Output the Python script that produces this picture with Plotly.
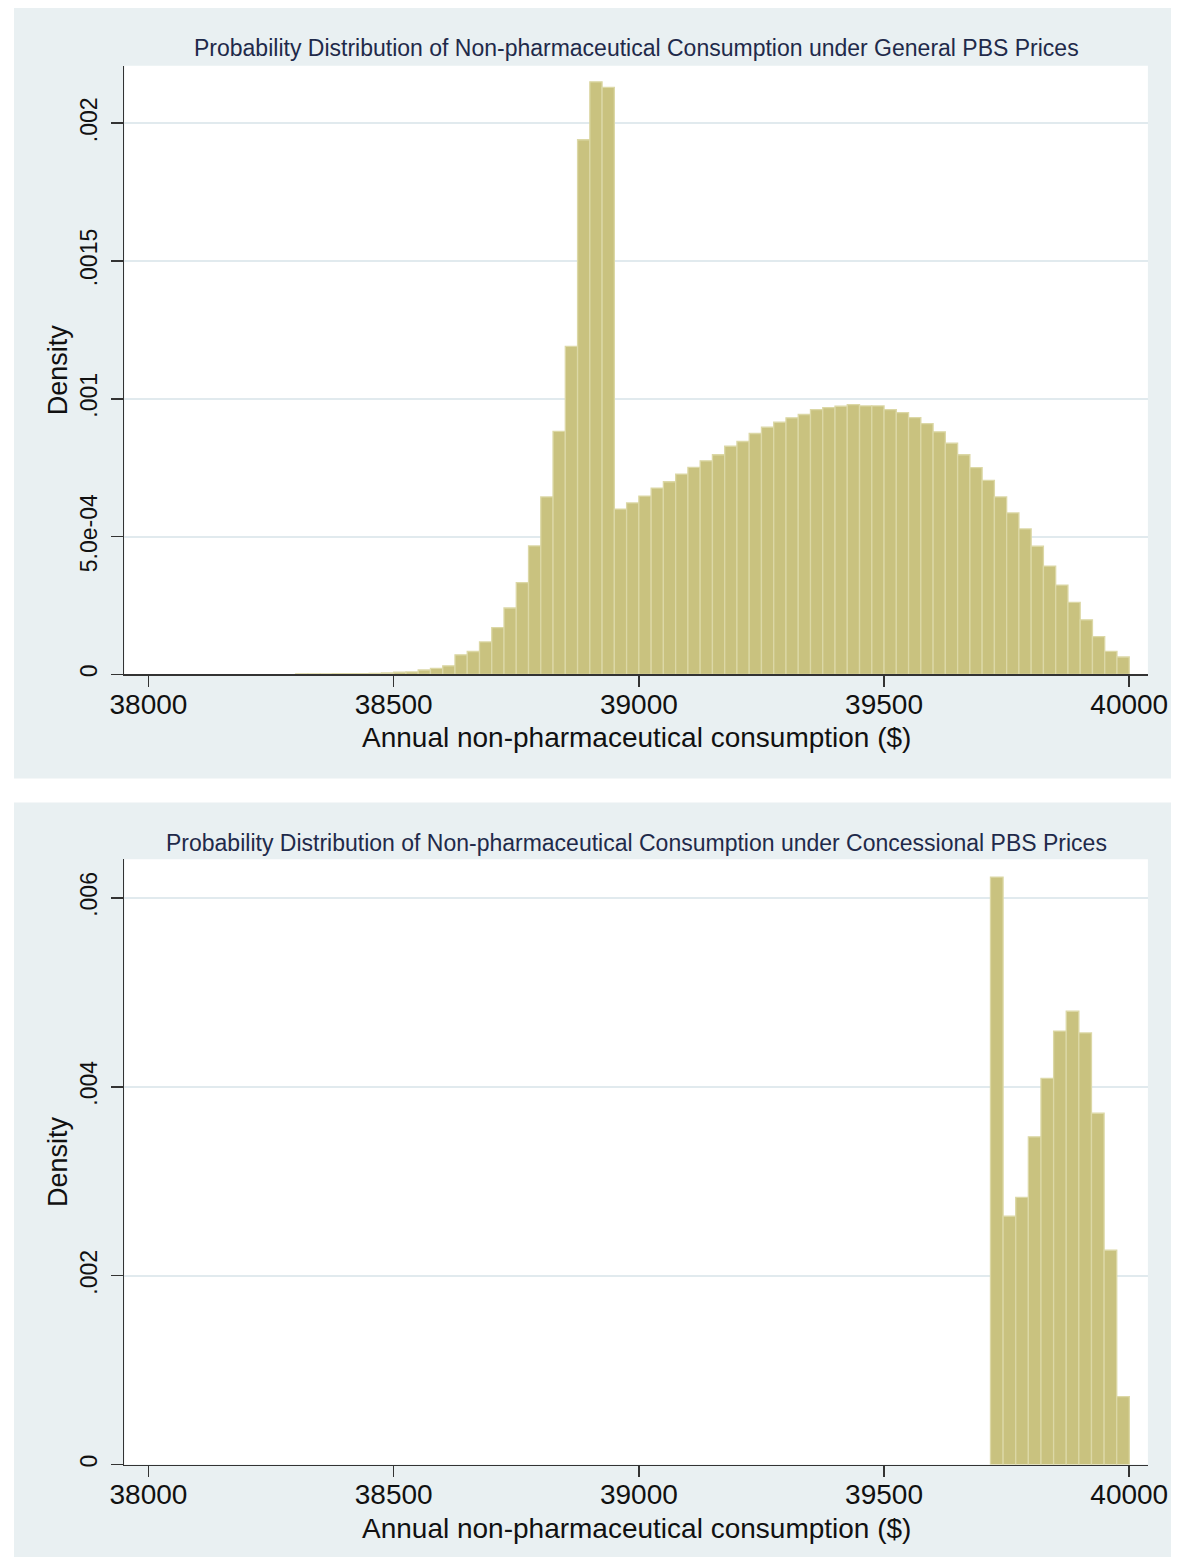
import numpy as np
import plotly.graph_objects as go

# ---- data ----
# general PBS prices: bins of $25 from 38300 to 40000
gen_start = 38300
gen_width = 25
gen_density = [
    0.000002, 0.000002, 0.000002, 0.000003, 0.000003, 0.000003, 0.000004, 0.000005,
    0.000008, 0.000009, 0.000016, 0.000022, 0.000031, 0.000071, 0.000083, 0.000118,
    0.000170, 0.000241, 0.000333, 0.000466, 0.000644, 0.000882, 0.00119, 0.00194,
    0.00215, 0.00213, 0.000600, 0.000622,
    0.000647, 0.000676, 0.000699, 0.000727, 0.000751, 0.000775, 0.000797, 0.000828,
    0.000845, 0.000874, 0.000897, 0.000915, 0.000931, 0.000943, 0.000961, 0.000968,
    0.000973, 0.000979, 0.000974, 0.000974, 0.000961, 0.000950, 0.000932, 0.000910,
    0.000880, 0.000839, 0.000797, 0.000750, 0.000704, 0.000644, 0.000586, 0.000528,
    0.000465, 0.000393, 0.000324, 0.000261, 0.000198, 0.000137, 0.0000837, 0.0000631,
]

# concessional PBS prices
con_start = 39717
con_width = 25.75
con_density = [0.00622, 0.00263, 0.00283, 0.00347, 0.00409, 0.00459,
               0.00480, 0.00457, 0.00372, 0.00227, 0.00072]

x_ticks = [38000, 38500, 39000, 39500, 40000]
x_labels = ["38000", "38500", "39000", "39500", "40000"]
gen_yticks = [0, 0.0005, 0.001, 0.0015, 0.002]
gen_ylabels = ["0", "5.0e-04", ".001", ".0015", ".002"]
con_yticks = [0, 0.002, 0.004, 0.006]
con_ylabels = ["0", ".002", ".004", ".006"]

gen_title = "Probability Distribution of Non-pharmaceutical Consumption under General PBS Prices"
con_title = "Probability Distribution of Non-pharmaceutical Consumption under Concessional PBS Prices"
x_title = "Annual non-pharmaceutical consumption ($)"

W, H = 1191, 1562
FONT = "Liberation Sans, Arial, sans-serif"
BAR = "#c9c27f"
BAR_EDGE = "#dcd8a6"
PANEL = "#e9f0f2"
GRID = "#e1eaee"


def py(y):
    return 1 - y / H


def centers(start, width, n):
    return start + width * (np.arange(n) + 0.5)


fig = go.Figure()

fig.add_trace(go.Bar(
    x=centers(gen_start, gen_width, len(gen_density)), y=gen_density,
    width=gen_width, marker=dict(color=BAR, line=dict(color=BAR_EDGE, width=1.3)),
    xaxis="x", yaxis="y", showlegend=False,
))
fig.add_trace(go.Bar(
    x=centers(con_start, con_width, len(con_density)), y=con_density,
    width=con_width, marker=dict(color=BAR, line=dict(color=BAR_EDGE, width=1.3)),
    xaxis="x2", yaxis="y2", showlegend=False,
))

# plot region spans px 113.7..1167.2 so the "40000" label still fits in the page
xdom = [113.7 / W, 1167.2 / W]
top_dom = [py(675.7), py(66)]
bot_dom = [py(1467.4), py(861)]

xaxis_style = dict(
    range=[37951, 40038], tickvals=x_ticks, ticktext=x_labels, ticks="outside",
    ticklen=11, tickwidth=1.5, tickcolor="#333", showline=True, linecolor="#333",
    linewidth=1.5, showgrid=False, zeroline=False, ticklabelstandoff=-7,
    tickfont=dict(size=28, color="#111"), domain=xdom,
)
yaxis_style = dict(
    ticks="outside", ticklen=12, tickwidth=1.5, tickcolor="#333",
    showline=True, linecolor="#333", linewidth=1.5, showgrid=True,
    gridcolor=GRID, gridwidth=2, zeroline=False, tickangle=-90,
    ticklabelstandoff=5, tickfont=dict(size=23, color="#111"),
    title=dict(text="Density", font=dict(size=27, color="#111"), standoff=0),
)

fig.update_layout(
    width=W, height=H, margin=dict(l=0, r=0, t=0, b=0),
    paper_bgcolor="white", plot_bgcolor="white", bargap=0,
    font=dict(family=FONT),
    xaxis=dict(xaxis_style, anchor="y"),
    yaxis=dict(yaxis_style, domain=top_dom, range=[0, 0.002208],
               tickvals=gen_yticks, ticktext=gen_ylabels, anchor="x"),
    xaxis2=dict(xaxis_style, anchor="y2"),
    yaxis2=dict(yaxis_style, domain=bot_dom, range=[0, 0.006408],
                tickvals=con_yticks, ticktext=con_ylabels, anchor="x2"),
)

# grey-blue panel backgrounds with a white plot region on top
for (y0, y1), dom in [((8, 780), top_dom), ((804, 1560), bot_dom)]:
    fig.add_shape(type="rect", xref="paper", yref="paper",
                  x0=0, x1=1, y0=py(y1), y1=py(y0),
                  fillcolor=PANEL, line=dict(width=0), layer="below")
    fig.add_shape(type="rect", xref="paper", yref="paper",
                  x0=xdom[0], x1=xdom[1], y0=dom[0], y1=dom[1],
                  fillcolor="white", line=dict(width=0), layer="below")

xmid = (xdom[0] + xdom[1]) / 2
for text, ypix in [(gen_title, 48), (con_title, 845)]:
    fig.add_annotation(text=text, xref="paper", yref="paper", x=xmid, y=py(ypix),
                       showarrow=False, xanchor="center", yanchor="middle",
                       font=dict(size=23, color="#1f2a4a"))

# x-axis titles placed right under the tick labels, as in the Stata graph
for ypix in [739, 1531]:
    fig.add_annotation(text=x_title, xref="paper", yref="paper", x=xmid, y=py(ypix),
                       showarrow=False, xanchor="center", yanchor="middle",
                       font=dict(size=28, color="#111"))

# no body margin and no scrollbars, so the figure fills the window exactly
page_css = (
    "document.documentElement.style.overflow = 'hidden';"
    "document.body.style.overflow = 'hidden';"
    "document.body.style.margin = '0';"
)
fig.write_html("out.html", config={"staticPlot": True}, post_script=page_css)
